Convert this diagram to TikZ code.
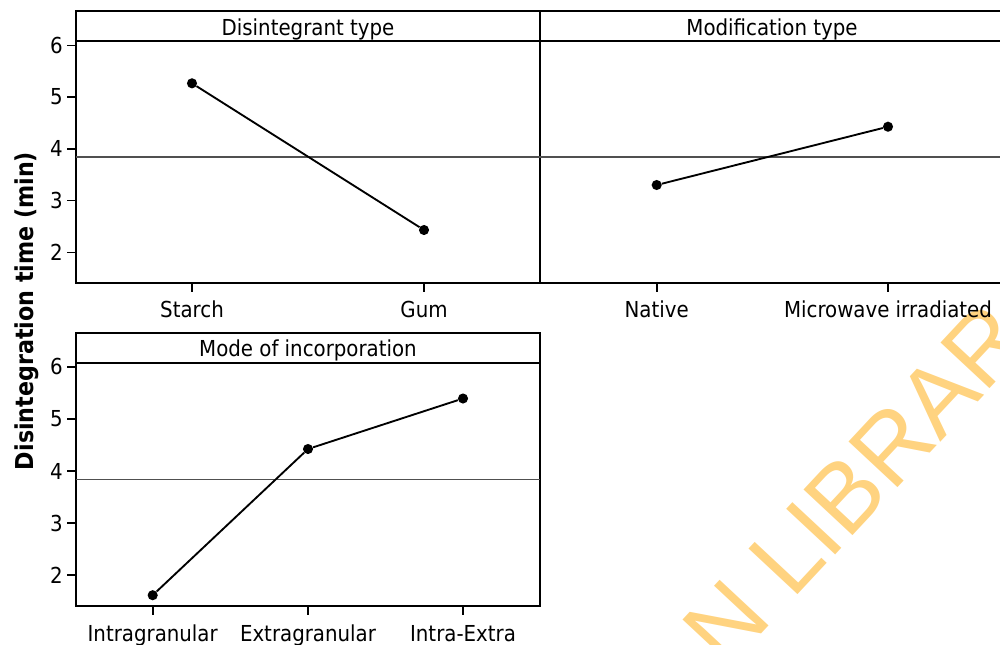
\documentclass[tikz,border=0pt]{standalone}
\usepackage{fontspec}
\IfFontExistsTF{DejaVu Sans Condensed}{\setmainfont{DejaVu Sans Condensed}}{\setmainfont{DejaVu Sans}[FakeStretch=0.9]}
\newfontfamily\wmfont{Liberation Sans}
\definecolor{wm}{RGB}{255,211,128}
\definecolor{meangray}{RGB}{80,80,80}
\begin{document}
\begin{tikzpicture}[x=0.75pt,y=-0.75pt,
  every node/.style={inner sep=0pt},
  lbl/.style={font=\fontsize{16.5}{19}\selectfont},
  panel/.style={line width=1.5pt, draw=black},
  meanline/.style={line width=1.3pt, draw=meangray},
  dataline/.style={line width=1.4pt, draw=black},
  pt/.style={circle, fill=black, minimum size=7.6pt, inner sep=0pt},
  tk/.style={line width=1.2pt, draw=black}]

\useasboundingbox (0,0) rectangle (1000,644);
\clip (0,0) rectangle (1000,644);

% watermark
\node[font=\wmfont\fontsize{73}{73}\selectfont, text=wm, rotate=47, anchor=base west] (wmark) at (726,672) {N LIBRAR};

% ---- top panels ----
\draw[panel] (76,11) rectangle (540,283);
\draw[panel] (540,11) rectangle (1004,283);
\draw[panel] (76,41) -- (1004,41);
\draw[meanline] (76,156.8) -- (1004,156.8);
\node[lbl, anchor=base] (t1) at (308,35) {Disintegrant type};
\node[lbl, anchor=base] (t2) at (772,35) {Modification type};

\foreach \v/\y in {6/45.3,5/97,4/148.8,3/200.5,2/252.3}{
  \draw[tk] (67,\y) -- (76,\y);
  \node[lbl, anchor=east] (ty\v) at (63,\y) {\v};
}
\foreach \x/\t/\n in {192/Starch/a,424/Gum/b,656.7/Native/c,888/Microwave irradiated/d}{
  \draw[tk] (\x,283) -- (\x,292);
  \node[lbl, anchor=base] (tx\n) at (\x,317) {\t};
}

\node[pt] (s1) at (192,83.3) {};
\node[pt] (s2) at (424,230) {};
\draw[dataline] (s1) -- (s2);
\node[pt] (m1) at (656.7,185) {};
\node[pt] (m2) at (888,126.7) {};
\draw[dataline] (m1) -- (m2);

% ---- bottom panel ----
\draw[panel] (76,332.5) rectangle (540,606);
\draw[panel] (76,362.5) -- (540,362.5);
\draw[meanline] (76,479.5) -- (540,479.5);
\node[lbl, anchor=base] (t3) at (308,356.5) {Mode of incorporation};

\foreach \v/\y in {6/366.8,5/418.9,4/471,3/523.1,2/575.2}{
  \draw[tk] (67,\y) -- (76,\y);
  \node[lbl, anchor=east] (by\v) at (63,\y) {\v};
}
\foreach \x/\t/\n in {152.7/Intragranular/a,308/Extragranular/b,463/Intra-Extra/c}{
  \draw[tk] (\x,606) -- (\x,615);
  \node[lbl, anchor=base] (bx\n) at (\x,641) {\t};
}

\node[pt] (i1) at (152.7,595.2) {};
\node[pt] (i2) at (308,449) {};
\node[pt] (i3) at (463,398.5) {};
\draw[dataline] (i1) -- (i2) -- (i3);

% y-axis title
\node[font=\bfseries\fontsize{18.5}{20}\selectfont, rotate=90, anchor=base] (ylab) at (33,311) {Disintegration time (min)};
\end{tikzpicture}
\end{document}
